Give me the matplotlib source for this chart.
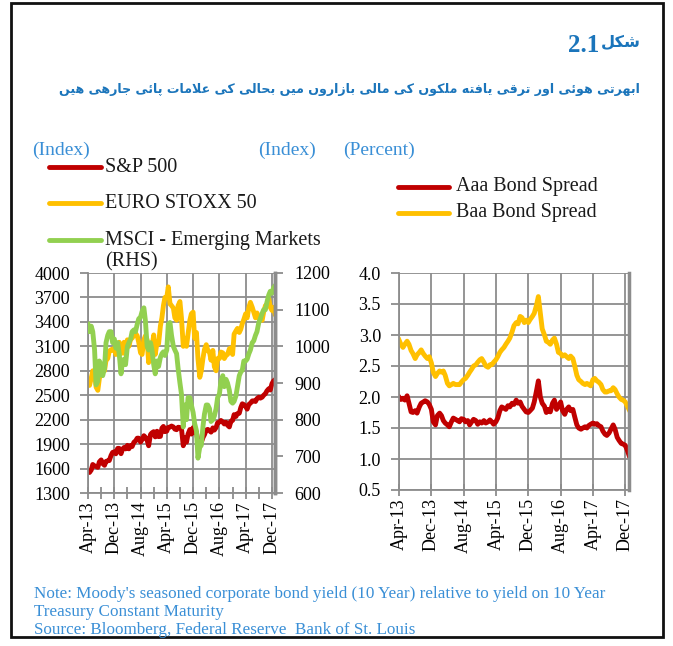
import numpy as np
import pandas as pd
import matplotlib.pyplot as plt
from matplotlib import font_manager
from matplotlib.ft2font import FT2Font
from matplotlib.lines import Line2D
from matplotlib.patches import Rectangle

# semi-monthly observations, Apr-2013 .. end Dec-2017
dates = pd.date_range('2013-04-01', '2017-12-15', freq='SMS').append(pd.DatetimeIndex(['2017-12-29']))

sp500 = [
    1562, 1552, 1582, 1650, 1631, 1626, 1615, 1682, 1706, 1661, 1640, 1688, 1695, 1698, 1762, 1798, 1806, 1781,
    1848, 1848, 1782, 1838, 1859, 1841, 1885, 1842, 1883, 1870, 1924, 1937, 1973, 1973, 1925, 1955, 2003, 1984,
    1946, 1880, 2018, 2039, 2053, 1989,
    2058, 1992, 1995, 2096, 2117, 2053, 2059, 2106, 2108, 2122, 2111, 2084, 2077, 2107, 2104, 2092, 1880, 1978,
    1924, 2023, 2079, 2023, 2102, 2043,
    2044, 1930, 1940, 1920, 1979, 2015, 2073, 2081, 2065, 2047, 2099, 2072, 2103, 2162, 2171, 2190, 2171, 2147,
    2168, 2133, 2111, 2180, 2191, 2262,
    2239, 2275, 2279, 2349, 2395, 2385, 2362, 2329, 2388, 2402, 2430, 2432, 2423, 2459, 2476, 2464, 2476, 2500,
    2519, 2553, 2579, 2564, 2642, 2675, 2690,
]
eurostoxx = [
    2650, 2620, 2710, 2800, 2770, 2600, 2560, 2700, 2800, 2800, 2800, 2930, 2950, 3040, 3060, 3050, 3080, 3000,
    3110, 3150, 3010, 3090, 3150, 3000, 3180, 3100, 3190, 3200, 3240, 3260, 3230, 3150, 3020, 3000, 3180, 3230,
    3180, 2900, 3050, 3090, 3240, 3000,
    3150, 3130, 3350, 3450, 3600, 3700, 3700, 3830, 3620, 3600, 3570, 3450, 3420, 3600, 3650, 3450, 3100, 3200,
    3100, 3250, 3420, 3500, 3520, 3200,
    3270, 2950, 2720, 2800, 2950, 3060, 3120, 3050, 3030, 2930, 3050, 2850, 2800, 2950, 2950, 3030, 3020, 2950,
    2990, 3000, 3070, 3080, 3000, 3250,
    3290, 3320, 3270, 3310, 3380, 3430, 3500, 3450, 3580, 3640, 3580, 3520, 3450, 3510, 3450, 3420, 3420, 3520,
    3600, 3610, 3690, 3580, 3540, 3580, 3500,
]
msci_em = [
    1060, 1040, 1055, 1040, 990, 895, 905, 960, 950, 920, 940, 1010, 1030, 1040, 1040, 1010, 1020, 995,
    1010, 980, 925, 960, 965, 950, 1000, 1010, 1020, 1040, 1045, 1040, 1060, 1075, 1080, 1095, 1105, 1070,
    1000, 990, 1010, 990, 950, 925,
    960, 945, 970, 980, 985, 975, 990, 1060, 1065, 1030, 1000, 990, 980, 940, 900, 870, 780, 840,
    800, 860, 860, 840, 820, 790,
    770, 695, 725, 730, 780, 815, 840, 840, 830, 795, 800, 810, 830, 860, 870, 905, 920, 890,
    910, 900, 880, 850, 845, 850,
    865, 890, 920, 930, 935, 960, 960, 965, 980, 990, 1010, 1015, 1030, 1040, 1065, 1075, 1090, 1100,
    1100, 1120, 1140, 1150, 1145, 1160, 1165,
]
baa_spread = [
    2.92, 2.85, 2.80, 2.85, 2.90, 2.85, 2.75, 2.70, 2.62, 2.68, 2.72, 2.76, 2.70, 2.66, 2.62, 2.65, 2.55, 2.40,
    2.33, 2.38, 2.42, 2.40, 2.42, 2.35, 2.22, 2.18, 2.20, 2.22, 2.20, 2.20, 2.20, 2.24, 2.28, 2.30, 2.35, 2.40,
    2.45, 2.50, 2.52, 2.56, 2.60, 2.62,
    2.56, 2.50, 2.48, 2.52, 2.52, 2.56, 2.60, 2.65, 2.72, 2.76, 2.80, 2.85, 2.90, 2.95, 3.05, 3.15, 3.20, 3.18,
    3.30, 3.28, 3.20, 3.24, 3.20, 3.25,
    3.30, 3.35, 3.48, 3.62, 3.35, 3.10, 3.00, 2.90, 2.88, 2.85, 2.92, 2.95, 2.85, 2.72, 2.70, 2.66, 2.68, 2.65,
    2.62, 2.66, 2.62, 2.50, 2.35, 2.28,
    2.25, 2.22, 2.20, 2.22, 2.20, 2.18, 2.28, 2.30, 2.26, 2.24, 2.20, 2.12, 2.08, 2.08, 2.10, 2.10, 2.15, 2.12,
    2.05, 2.00, 1.96, 1.95, 1.92, 1.86, 1.80,
]
aaa_spread = [
    2.00, 1.96, 1.98, 1.95, 2.02, 1.90, 1.76, 1.75, 1.78, 1.74, 1.84, 1.90, 1.92, 1.94, 1.92, 1.88, 1.80, 1.60,
    1.55, 1.70, 1.74, 1.70, 1.62, 1.58, 1.55, 1.52, 1.60, 1.66, 1.64, 1.62, 1.60, 1.65, 1.64, 1.60, 1.62, 1.55,
    1.60, 1.64, 1.62, 1.56, 1.60, 1.58,
    1.62, 1.58, 1.60, 1.63, 1.60, 1.56, 1.60, 1.66, 1.78, 1.84, 1.82, 1.80, 1.86, 1.84, 1.90, 1.88, 1.95, 1.90,
    1.92, 1.85, 1.80, 1.76, 1.75, 1.78,
    1.82, 1.92, 2.10, 2.26, 2.00, 1.90, 1.85, 1.75, 1.80, 1.76, 1.90, 1.95, 1.80, 1.85, 1.92, 1.78, 1.72, 1.80,
    1.84, 1.78, 1.80, 1.68, 1.55, 1.50,
    1.48, 1.50, 1.52, 1.50, 1.54, 1.56, 1.58, 1.56, 1.57, 1.54, 1.52, 1.45, 1.40, 1.38, 1.42, 1.48, 1.55, 1.48,
    1.35, 1.30, 1.25, 1.24, 1.22, 1.15, 1.06,
]

x_labels = ['Apr-13', 'Dec-13', 'Aug-14', 'Apr-15', 'Dec-15', 'Aug-16', 'Apr-17', 'Dec-17']
title_urdu = 'ابھرتے ہوئے اور ترقی یافتہ ملکوں کے مالی بازاروں میں بحالی کی علامات پائی جارہی ہیں'
fig_word = 'شکل'
note_lines = [
    "Note: Moody's seasoned corporate bond yield (10 Year) relative to yield on 10 Year",
    "Treasury Constant Maturity",
    "Source: Bloomberg, Federal Reserve  Bank of St. Louis",
]

RED = '#C00000'
ORANGE = '#FFC000'
GREEN = '#92D050'
GRID = '#8C8C8C'
BLUE = '#1B75BB'
LBLUE = '#3A8FD6'

# contextual forms (iso, fin, ini, med) -- matplotlib has no arabic shaping
FORMS = {
    'ا': ('\uFE8D', '\uFE8E', None, None),
    'ب': ('\uFE8F', '\uFE90', '\uFE91', '\uFE92'),
    'ت': ('\uFE95', '\uFE96', '\uFE97', '\uFE98'),
    'ج': ('\uFE9D', '\uFE9E', '\uFE9F', '\uFEA0'),
    'ح': ('\uFEA1', '\uFEA2', '\uFEA3', '\uFEA4'),
    'ر': ('\uFEAD', '\uFEAE', None, None),
    'ز': ('\uFEAF', '\uFEB0', None, None),
    'ش': ('\uFEB5', '\uFEB6', '\uFEB7', '\uFEB8'),
    'ع': ('\uFEC9', '\uFECA', '\uFECB', '\uFECC'),
    'ف': ('\uFED1', '\uFED2', '\uFED3', '\uFED4'),
    'ق': ('\uFED5', '\uFED6', '\uFED7', '\uFED8'),
    'ل': ('\uFEDD', '\uFEDE', '\uFEDF', '\uFEE0'),
    'م': ('\uFEE1', '\uFEE2', '\uFEE3', '\uFEE4'),
    'و': ('\uFEED', '\uFEEE', None, None),
    'ئ': ('\uFE89', '\uFE8A', '\uFE8B', '\uFE8C'),
    'پ': ('\uFB56', '\uFB57', '\uFB58', '\uFB59'),
    'ک': ('\uFB8E', '\uFB8F', '\uFB90', '\uFB91'),
    'ں': ('\uFB9E', '\uFB9F', None, None),
    'ھ': ('\uFBAA', '\uFBAB', '\uFBAC', '\uFBAD'),
    'ہ': ('\uFBA6', '\uFBA7', '\uFBA8', '\uFBA9'),
    'ے': ('\uFBAE', '\uFBAF', None, None),
    'ی': ('\uFBFC', '\uFBFD', '\uFBFE', '\uFBFF'),
}
# stand-ins when the font lacks a form
SUBST = {
    '\uFBA6': ['\uFEE9'], '\uFBA7': ['\uFEEA'], '\uFBA8': ['\uFEEB'], '\uFBA9': ['\uFEEC'],
    '\uFBAE': ['\u06D2', '\uFEEF'], '\uFBAF': ['\uFBAE', '\u06D2', '\uFEF0'],
}


def pick_weight():
    needed = [g for forms in FORMS.values() for g in forms if g]
    for weight in ['bold', 'normal']:
        ft = FT2Font(font_manager.findfont(font_manager.FontProperties(family='DejaVu Sans', weight=weight)))
        if all(ft.get_char_index(ord(g)) for g in needed):
            return weight, ft
    return 'bold', FT2Font(font_manager.findfont(font_manager.FontProperties(family='DejaVu Sans', weight='bold')))


AR_WEIGHT, AR_FONT = pick_weight()


def glyph(g):
    if AR_FONT.get_char_index(ord(g)):
        return g
    for alt in SUBST.get(g, []):
        if AR_FONT.get_char_index(ord(alt)):
            return alt
    return g


def shape(text):
    out = []
    prev = False
    i = 0
    while i < len(text):
        c = text[i]
        if c not in FORMS:
            out.append(c)
            prev = False
            i += 1
            continue
        if c == 'ل' and i + 1 < len(text) and text[i + 1] == 'ا':
            out.append('\uFEFC' if prev else '\uFEFB')
            prev = False
            i += 2
            continue
        nxt = text[i + 1] if i + 1 < len(text) else ''
        dual = FORMS[c][2] is not None
        link = dual and nxt in FORMS
        iso, fin, ini, med = FORMS[c]
        if prev and link:
            out.append(glyph(med))
        elif prev:
            out.append(glyph(fin))
        elif link:
            out.append(glyph(ini))
        else:
            out.append(glyph(iso))
        prev = dual
        i += 1
    return ''.join(reversed(out))


plt.rcParams['font.family'] = 'Liberation Serif'
W, H = 673, 646
fig = plt.figure(figsize=(W / 100, H / 100), dpi=100)


def fx(px):
    return px / W


def fy(py):
    return 1 - py / H


def style_axis(ax, minor=False):
    ax.set_facecolor('none')
    ax.spines['top'].set_visible(False)
    for s in ['left', 'bottom']:
        ax.spines[s].set_color(GRID)
        ax.spines[s].set_linewidth(1.3)
    ax.spines['right'].set_color(GRID)
    ax.spines['right'].set_linewidth(2.5)
    ax.set_xlim(dates[0], dates[-1])
    ax.set_xticks(pd.date_range('2013-04-01', '2017-12-01', freq='8MS'))
    ax.set_xticklabels(x_labels, rotation=90, fontsize=13)
    if minor:
        ax.set_xticks(pd.date_range('2013-08-01', '2017-08-01', freq='8MS'), minor=True)
        ax.tick_params(axis='x', which='minor', direction='inout', length=8, color=GRID, width=1.3)
    ax.tick_params(axis='x', direction='inout', length=8, color=GRID, width=1.3, pad=2)
    ax.tick_params(axis='y', direction='out', length=6, color=GRID, width=1.3, pad=7, labelsize=13)
    ax.grid(True, which='major', color=GRID, linewidth=1.3)
    ax.set_axisbelow(True)


# left panel: equity indices
ax1 = fig.add_axes([fx(88), fy(493), fx(275) - fx(88), fy(273) - fy(493)])
style_axis(ax1, minor=True)
ax1.plot(dates, sp500, color=RED, lw=3.5)
ax1.plot(dates, eurostoxx, color=ORANGE, lw=3.5)
ax1.set_ylim(1300, 4000)
ax1.set_yticks(np.arange(1300, 4001, 300))
ax1r = ax1.twinx()
ax1r.plot(dates, msci_em, color=GREEN, lw=3.5)
ax1r.set_ylim(600, 1200)
ax1r.set_yticks(np.arange(600, 1201, 100))
ax1r.tick_params(axis='y', direction='out', length=6, color=GRID, width=1.3, pad=8, labelsize=13)
for s in ['top', 'left', 'bottom']:
    ax1r.spines[s].set_visible(False)
ax1r.spines['right'].set_color(GRID)
ax1r.spines['right'].set_linewidth(2.5)

# right panel: bond spreads
ax2 = fig.add_axes([fx(399), fy(490), fx(629) - fx(399), fy(273) - fy(490)])
style_axis(ax2)
ax2.plot(dates, baa_spread, color=ORANGE, lw=3.5)
ax2.plot(dates, aaa_spread, color=RED, lw=3.5)
ax2.set_ylim(0.5, 4.0)
ax2.set_yticks(np.arange(0.5, 4.01, 0.5))
ax2.set_yticklabels(['%.1f' % v for v in np.arange(0.5, 4.01, 0.5)])

# unit labels
fig.text(fx(32), fy(150), '(Index)', color=LBLUE, fontsize=14, va='center')
fig.text(fx(258), fy(150), '(Index)', color=LBLUE, fontsize=14, va='center')
fig.text(fx(343), fy(150), '(Percent)', color=LBLUE, fontsize=14, va='center')

# legends
legend_left = [(RED, 'S&P 500', 167), (ORANGE, 'EURO STOXX 50', 203), (GREEN, 'MSCI - Emerging Markets', 240)]
for col, lab, yy in legend_left:
    fig.add_artist(Line2D([fx(49), fx(101)], [fy(yy), fy(yy)], color=col, lw=3.5,
                          solid_capstyle='round', transform=fig.transFigure))
    fig.text(fx(105), fy(yy), lab, fontsize=14.5, va='center', color='#1a1a1a')
fig.text(fx(105), fy(262), '(RHS)', fontsize=14.5, va='center', color='#1a1a1a')

legend_right = [(RED, 'Aaa Bond Spread', 187), (ORANGE, 'Baa Bond Spread', 213)]
for col, lab, yy in legend_right:
    fig.add_artist(Line2D([fx(398), fx(449)], [fy(yy), fy(yy)], color=col, lw=3.5,
                          solid_capstyle='round', transform=fig.transFigure))
    fig.text(fx(456), fy(yy), lab, fontsize=14.5, va='center', color='#1a1a1a')

# titles, sized to the widths seen in the reference
rend = fig.canvas.get_renderer()
t_fig = fig.text(fx(641), fy(43), shape(fig_word), color=BLUE, fontsize=17, fontweight=AR_WEIGHT,
                 family='DejaVu Sans', ha='right', va='center')
t_fig.set_fontsize(17 * 40 / t_fig.get_window_extent(rend).width)
x0 = t_fig.get_window_extent(rend).x0
fig.text(x0 - 2, fy(45) * H, '2.1', color=BLUE, fontsize=18, fontweight='bold', ha='right', va='center',
         transform=None)
t_title = fig.text(fx(640), fy(90), shape(title_urdu), color=BLUE, fontsize=15, fontweight=AR_WEIGHT,
                   family='DejaVu Sans', ha='right', va='center')
t_title.set_fontsize(15 * 582 / t_title.get_window_extent(rend).width)

# notes
for i, line in enumerate(note_lines):
    fig.text(fx(34), fy(594 + 18 * i), line, color=LBLUE, fontsize=12.3, va='center')

fig.add_artist(Rectangle((fx(11), fy(637)), fx(663) - fx(11), fy(3) - fy(637), fill=False,
                         edgecolor='#111111', lw=2, transform=fig.transFigure))

fig.savefig('out.png', dpi=100)
